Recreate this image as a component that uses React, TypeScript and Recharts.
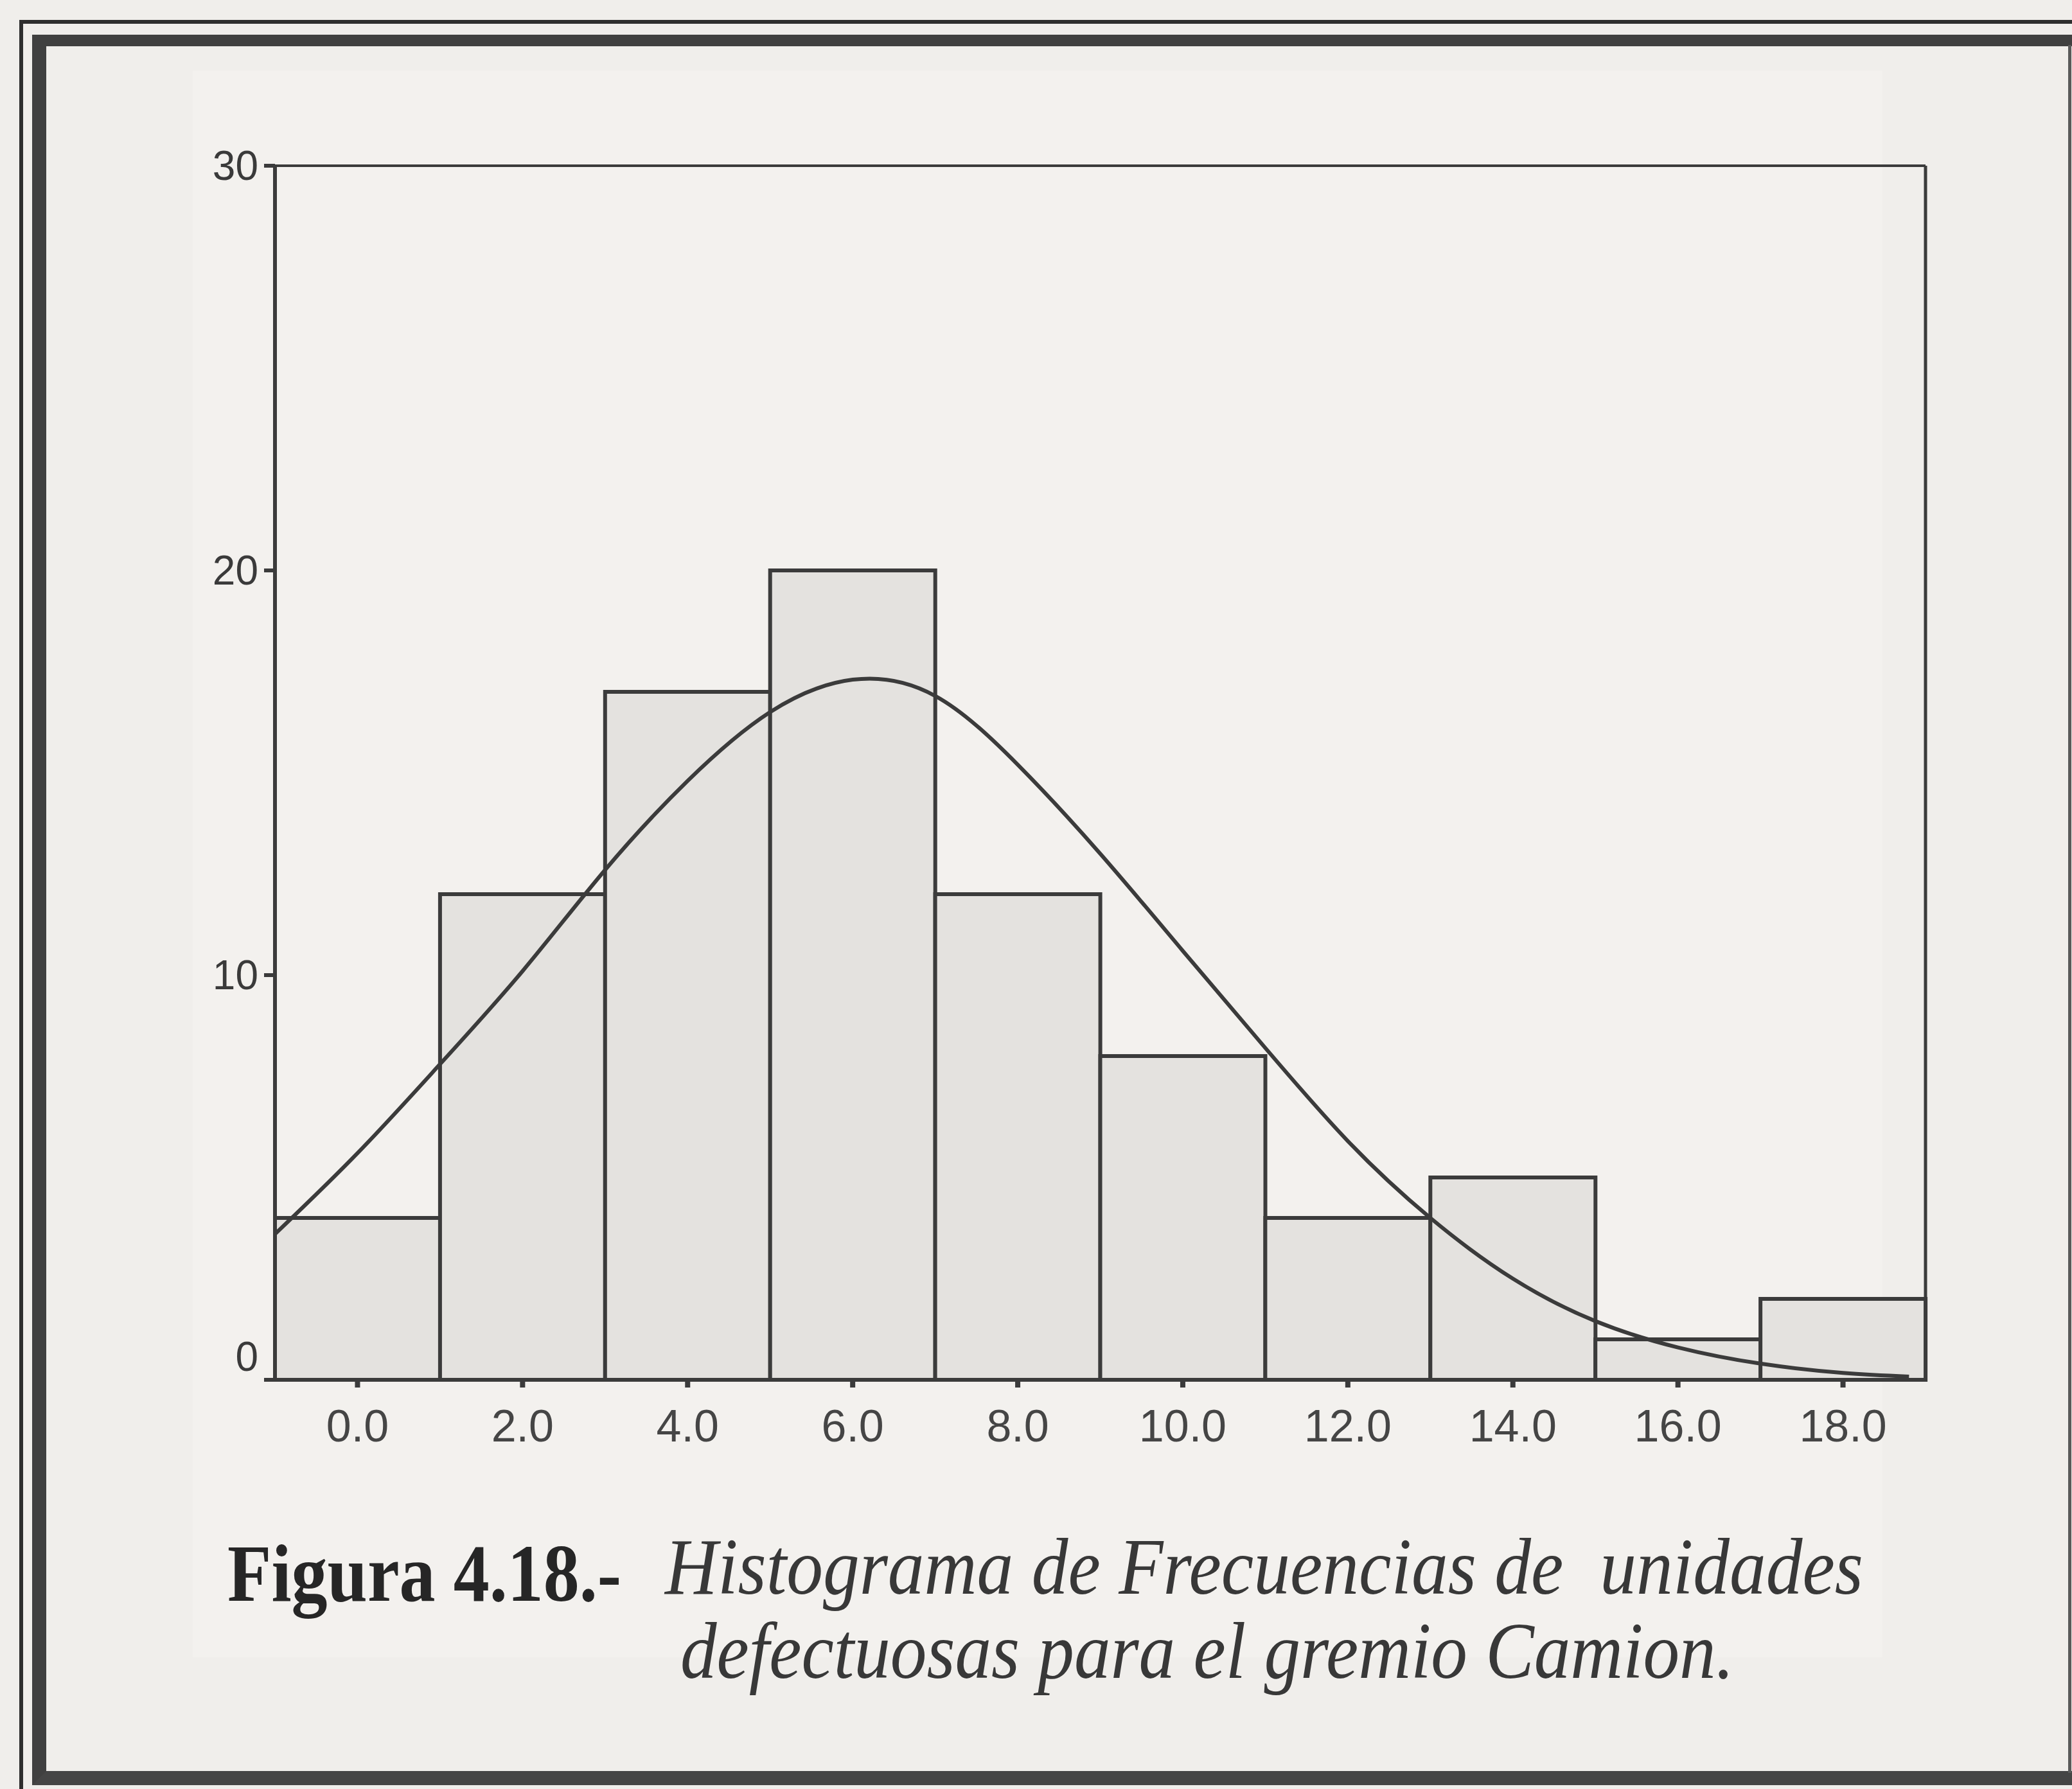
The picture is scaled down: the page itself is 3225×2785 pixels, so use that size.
import React from 'react';
import { ComposedChart, Bar, Line, XAxis, YAxis, ReferenceLine } from 'recharts';

// ---- data ----
const binLabels = ['0.0', '2.0', '4.0', '6.0', '8.0', '10.0', '12.0', '14.0', '16.0', '18.0'];
const frequencies = [4, 12, 17, 20, 12, 8, 4, 5, 1, 2];

const curveX = [-1, 0, 1, 2, 3, 4, 5, 6, 7, 8, 9, 10, 11, 12, 13, 14, 15, 16, 17, 18, 18.8];
const curveY = [3.6, 5.6, 7.8, 10.1, 12.6, 14.8, 16.5, 17.3, 16.9, 15.2, 13.0, 10.6, 8.2, 5.9, 4.0, 2.5, 1.45, 0.8, 0.4, 0.17, 0.08];

const yTicks = [0, 10, 20, 30];
const xDomain = [-1, 19];

const captionBold = 'Figura 4.18.-';
const captionLine1 = 'Histograma de Frecuencias de  unidades';
const captionLine2 = 'defectuosas para el gremio Camion.';

const barData = binLabels.map((bin, i) => ({ bin, freq: frequencies[i] }));
const curveData = curveX.map((x, i) => ({ x, y: curveY[i] }));

const INK = '#3b3b3b';
const BAR_FILL = '#e4e2df';
const PAPER = '#f0eeeb';

const YTick = (props: any) => {
  const { x, y, payload } = props;
  const shift = payload.value === 0 ? -36 : 0;
  return (
    <text
      x={x}
      y={y + shift}
      textAnchor="end"
      dominantBaseline="central"
      fill="#3a3a3a"
      fontSize={64}
      fontFamily="'Liberation Sans', Arial, sans-serif"
    >
      {payload.value}
    </text>
  );
};

export default function App() {
  return (
    <div
      style={{
        position: 'absolute',
        left: 0,
        top: 0,
        width: 3225,
        height: 2785,
        background: PAPER,
        overflow: 'hidden',
      }}
    >
      {/* lighter pasted panel */}
      <div
        style={{
          position: 'absolute',
          left: 300,
          top: 110,
          width: 2630,
          height: 2470,
          background: '#f3f1ee',
        }}
      />
      {/* outer thin frame line */}
      <div
        style={{
          position: 'absolute',
          left: 30,
          top: 31,
          width: 3300,
          height: 2800,
          borderLeft: '6px solid #2e2e2e',
          borderTop: '6px solid #2e2e2e',
          boxSizing: 'border-box',
        }}
      />
      {/* inner thick frame */}
      <div
        style={{
          position: 'absolute',
          left: 50,
          top: 54,
          width: 3300,
          height: 2725,
          borderLeft: '22px solid #404040',
          borderTop: '18px solid #404040',
          borderBottom: '22px solid #454545',
          boxSizing: 'border-box',
        }}
      />
      {/* right thin line */}
      <div
        style={{
          position: 'absolute',
          left: 3219,
          top: 70,
          width: 5,
          height: 2690,
          background: '#5a5a5a',
        }}
      />

      <div style={{ position: 'absolute', left: 0, top: 0 }}>
        <ComposedChart
          width={3225}
          height={2785}
          data={barData}
          margin={{ top: 258, right: 228, bottom: 517, left: 298 }}
          barCategoryGap={0}
          barGap={0}
        >
          <XAxis
            dataKey="bin"
            type="category"
            height={120}
            tickSize={12}
            tickMargin={34}
            interval={0}
            axisLine={{ stroke: INK, strokeWidth: 6 }}
            tickLine={{ stroke: INK, strokeWidth: 8 }}
            tick={{ fill: '#454545', fontSize: 70, fontFamily: "'Liberation Sans', Arial, sans-serif" }}
          />
          <XAxis xAxisId="num" type="number" dataKey="x" domain={xDomain} allowDataOverflow hide />
          <YAxis
            type="number"
            domain={[0, 30]}
            ticks={yTicks}
            width={130}
            tickSize={17}
            tickMargin={9}
            axisLine={{ stroke: INK, strokeWidth: 6 }}
            tickLine={{ stroke: INK, strokeWidth: 6 }}
            tick={<YTick />}
          />
          <ReferenceLine y={30} stroke={INK} strokeWidth={4} ifOverflow="visible" />
          <ReferenceLine xAxisId="num" x={19} stroke={INK} strokeWidth={5} ifOverflow="visible" />
          <Bar
            dataKey="freq"
            fill={BAR_FILL}
            stroke={INK}
            strokeWidth={6}
            isAnimationActive={false}
          />
          <Line
            xAxisId="num"
            data={curveData}
            dataKey="y"
            type="natural"
            stroke={INK}
            strokeWidth={6}
            dot={false}
            activeDot={false}
            isAnimationActive={false}
          />
        </ComposedChart>
      </div>

      <svg
        width={3225}
        height={2785}
        style={{ position: 'absolute', left: 0, top: 0, pointerEvents: 'none' }}
      >
        <text
          x={354}
          y={2492}
          fontFamily="'Liberation Serif', 'Times New Roman', serif"
          fontWeight="bold"
          fontSize={126}
          fill="#262626"
          textLength={613}
          lengthAdjust="spacingAndGlyphs"
        >
          {captionBold}
        </text>
        <text
          x={1035}
          y={2481}
          fontFamily="'Liberation Serif', 'Times New Roman', serif"
          fontStyle="italic"
          fontSize={124}
          fill="#383838"
          textLength={1865}
          lengthAdjust="spacingAndGlyphs"
          style={{ whiteSpace: 'pre' }}
        >
          {captionLine1}
        </text>
        <text
          x={1059}
          y={2612}
          fontFamily="'Liberation Serif', 'Times New Roman', serif"
          fontStyle="italic"
          fontSize={124}
          fill="#383838"
          textLength={1640}
          lengthAdjust="spacingAndGlyphs"
        >
          {captionLine2}
        </text>
      </svg>
    </div>
  );
}
